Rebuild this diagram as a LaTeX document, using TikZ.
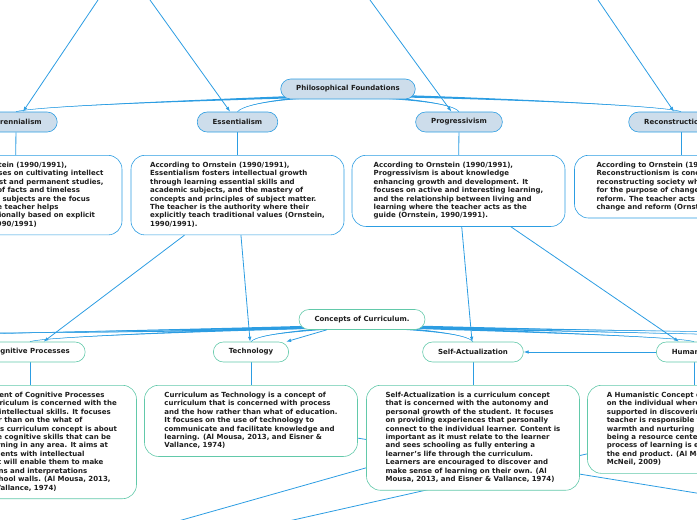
\documentclass[tikz,border=0pt]{standalone}
\usepackage{fontspec}
\setmainfont{DejaVu Sans}
\usetikzlibrary{arrows.meta,calc,backgrounds}

\definecolor{mmblue}{RGB}{44,157,226}
\definecolor{pffill}{RGB}{205,221,235}
\definecolor{mmteal}{RGB}{98,201,170}
\definecolor{mmtext}{RGB}{30,30,30}

\tikzset{
  topic/.style={draw=mmblue, fill=pffill, line width=0.6pt, rounded corners=10pt,
    minimum height=20pt, inner xsep=15.5pt, inner ysep=0pt, text=mmtext,
    font=\bfseries\fontsize{7}{8.45}\selectfont},
  ctopic/.style={topic, draw=mmteal, fill=white},
  pnote/.style={draw=mmblue, fill=white, line width=0.6pt, rounded corners=14pt,
    minimum width=213pt, inner xsep=8pt, inner ysep=6pt, align=left, anchor=north,
    text=mmtext, font=\bfseries\fontsize{7}{8.45}\selectfont},
  cnote/.style={pnote, draw=mmteal},
  link/.style={mmblue, line width=0.8pt},
  pointer/.style={link, -{Latex[length=5pt,width=3.6pt]}},
}

% tapered mind-map branch: start, control 1, control 2, end
\newcommand{\branch}[4]{%
  \fill[mmblue] ($(#1)+(0,-1.5)$) .. controls ($(#2)+(0,-0.9)$) and (#3) .. (#4)
    .. controls (#3) and ($(#2)+(0,0.9)$) .. ($(#1)+(0,1.5)$) -- cycle;
  \draw[mmblue, line width=0.5pt] (#1) .. controls (#2) and (#3) .. (#4);}

\begin{document}
\begin{tikzpicture}[x=1pt,y=-1pt]
    \useasboundingbox (0,0) rectangle (697,520);
    \clip (0,0) rectangle (697,520);

    % Philosophical Foundations and its children
    \node[topic] (pf) at (348,89) {Philosophical Foundations};
    \node[topic] (per) at (16,122) {Perennialism};
    \node[topic] (ess) at (237.5,122) {Essentialism};
    \node[topic] (prog) at (459,122) {Progressivism};
    \node[topic] (recon) at (681,122) {Reconstructionism};

    \node[pnote] (perbox) at (15.5,155) {\strut According to Ornstein (1990/1991),\\
      Perennialism focuses on cultivating intellect\\
      through the highest and permanent studies,\\
      with the mastery of facts and timeless\\
      realities. Classical subjects are the focus\\
      of study where the teacher helps\\
      students think rationally based on explicit\\
      rules (Ornstein, 1990/1991)\strut};
    \node[pnote] (essbox) at (237.5,155) {\strut According to Ornstein (1990/1991),\\
      Essentialism fosters intellectual growth\\
      through learning essential skills and\\
      academic subjects, and the mastery of\\
      concepts and principles of subject matter.\\
      The teacher is the authority where their\\
      explicitly teach traditional values (Ornstein,\\
      1990/1991).\strut};
    \node[pnote] (progbox) at (458.5,155) {\strut According to Ornstein (1990/1991),\\
      Progressivism is about knowledge\\
      enhancing growth and development. It\\
      focuses on active and interesting learning,\\
      and the relationship between living and\\
      learning where the teacher acts as the\\
      guide (Ornstein, 1990/1991).\strut};
    \node[pnote] (reconbox) at (681,155) {\strut According to Ornstein (1990/1991),\\
      Reconstructionism is concerned with\\
      reconstructing society where schools exist\\
      for the purpose of change and social\\
      reform. The teacher acts as an agent of\\
      change and reform (Ornstein, 1990/1991).\strut};

    % Concepts of Curriculum and its children
    \node[ctopic] (cc) at (362,319.5) {Concepts of Curriculum.};
    \node[ctopic] (cog) at (30,352) {Cognitive Processes};
    \node[ctopic] (tech) at (251,352) {Technology};
    \node[ctopic] (self) at (473,352) {Self-Actualization};
    \node[ctopic] (hum) at (694,352) {Humanistic};

    \node[cnote] (cogbox) at (30,385) {\strut The Development of Cognitive Processes\\
      concept of curriculum is concerned with the\\
      refinement of intellectual skills. It focuses\\
      the how rather than on the what of\\
      education. This curriculum concept is about\\
      developing the cognitive skills that can be\\
      applied to learning in any area. It aims at\\
      providing students with intellectual\\
      processes that will enable them to make\\
      wise predictions and interpretations\\
      outside the school walls. (Al Mousa, 2013,\\
      and Eisner \& Vallance, 1974)\strut};
    \node[cnote] (techbox) at (251,385) {\strut Curriculum as Technology is a concept of\\
      curriculum that is concerned with process\\
      and the how rather than what of education.\\
      It focuses on the use of technology to\\
      communicate and facilitate knowledge and\\
      learning. (Al Mousa, 2013, and Eisner \&\\
      Vallance, 1974)\strut};
    \node[cnote] (selfbox) at (473,385) {\strut Self-Actualization is a curriculum concept\\
      that is concerned with the autonomy and\\
      personal growth of the student. It focuses\\
      on providing experiences that personally\\
      connect to the individual learner. Content is\\
      important as it must relate to the learner\\
      and sees schooling as fully entering a\\
      learner's life through the curriculum.\\
      Learners are encouraged to discover and\\
      make sense of learning on their own. (Al\\
      Mousa, 2013, and Eisner \& Vallance, 1974)\strut};
    \node[cnote] (humbox) at (694,385) {\strut A Humanistic Concept of curriculum focuses\\
      on the individual where the learner is\\
      supported in discovering oneself. The\\
      teacher is responsible for providing\\
      warmth and nurturing emotions while\\
      being a resource center. The\\
      process of learning is emphasized over\\
      the end product. (Al Mousa, 2013, and\\
      McNeil, 2009)\strut};

    % ends of connectors outside the frame
    \coordinate (upA) at (98,0);
    \coordinate (upB) at (150,0);
    \coordinate (upC) at (370,0);
    \coordinate (upD) at (598,0);
    \coordinate (lowA) at (150,529);
    \coordinate (lowB) at (250,529.7);
    \coordinate (farB) at (720,424);
    \coordinate (farC) at (800,509.8);
    \coordinate (pfroot) at ($(pf.center)+(0,6)$);
    \coordinate (ccroot) at ($(cc.center)+(0,6)$);

    \begin{pgfonlayer}{background}
        % branches of Philosophical Foundations
        \branch{pfroot}{250,99}{40,105}{per.north}
        \branch{pfroot}{300,97}{246,102}{ess.north}
        \branch{pfroot}{410,99}{452,103}{prog.north}
        \branch{pfroot}{460,97}{665,105}{recon.north}
        % branches of Concepts of Curriculum
        \branch{ccroot}{250,330}{45,336}{cog.north}
        \branch{ccroot}{250,331}{60,333}{-40,333}
        \branch{ccroot}{250,329}{60,331}{-40,335}
        \branch{ccroot}{315,330}{258,333}{tech.north}
        \branch{ccroot}{420,330}{466,333}{self.north}
        \branch{ccroot}{460,330}{680,336}{hum.north}
        \branch{ccroot}{460,328}{650,331}{740,332}
        \branch{ccroot}{460,329}{650,333}{740,335}

        % topics to their notes
        \foreach \t in {per,ess,prog,recon,cog,tech,self,hum}
            \draw[link] (\t) -- (\t box);

        % links passing behind the notes
        \draw[link] (lowA) -- (selfbox);
        \draw[link] (lowB) -- (farB);
        \draw[link] (techbox) -- (farC);
    \end{pgfonlayer}

    % arrows
    \draw[pointer] (upA) -- (per);
    \draw[pointer] (upB) -- (ess);
    \draw[pointer] (upC) -- (prog);
    \draw[pointer] (upD) -- (recon);
    \draw[pointer] (essbox) -- (cog);
    \draw[pointer] (essbox) -- (tech);
    \draw[pointer] (progbox) -- (self);
    \draw[pointer] (progbox) -- (hum);
    \draw[pointer] (cc) -- (tech);
    \draw[pointer] (hum) -- (self);
\end{tikzpicture}
\end{document}
